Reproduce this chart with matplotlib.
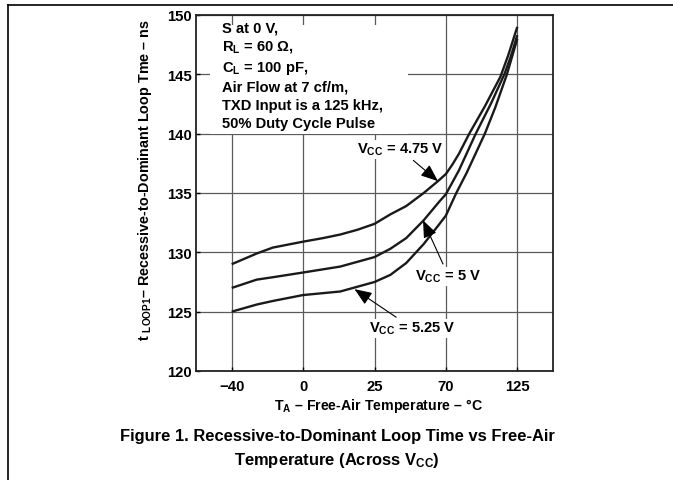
import numpy as np
import matplotlib
matplotlib.use("Agg")
import matplotlib.pyplot as plt
from matplotlib.lines import Line2D

plt.rcParams['font.family'] = ['Liberation Sans', 'DejaVu Sans']
plt.rcParams['font.weight'] = 'bold'
plt.rcParams['mathtext.fontset'] = 'custom'
plt.rcParams['mathtext.rm'] = 'Liberation Sans:bold'
plt.rcParams['mathtext.it'] = 'Liberation Sans:bold'
plt.rcParams['mathtext.bf'] = 'Liberation Sans:bold'

# ---------------- data ----------------
x_ticks = [-40, 0, 25, 70, 125]
x_tick_labels = ['\u221240', '0', '25', '70', '125']
y_ticks = [120, 125, 130, 135, 140, 145, 150]

t_475 = [-40, -26, -17, 0, 7, 13, 19, 25, 35, 45, 56, 65, 70, 75, 80, 88, 100, 112, 118, 125]
v_475 = [129.0, 129.9, 130.4, 130.9, 131.2, 131.5, 131.9, 132.4, 133.2, 133.9, 135.0,
         136.0, 136.6, 137.4, 138.3, 140.0, 142.3, 144.8, 146.6, 149.0]

t_500 = [-40, -26, -17, 0, 13, 25, 35, 45, 56, 66, 70, 80, 93, 105, 115, 120, 125]
v_500 = [127.0, 127.7, 127.9, 128.3, 128.8, 129.6, 130.3, 131.2, 132.7, 134.3, 134.9,
         136.9, 140.0, 142.6, 145.0, 146.5, 148.3]

t_525 = [-40, -26, -17, 0, 13, 25, 35, 45, 56, 66, 70, 78, 86, 100, 108, 117, 125]
v_525 = [125.0, 125.6, 125.9, 126.4, 126.7, 127.5, 128.1, 129.1, 130.7, 132.4, 133.1,
         135.0, 136.7, 140.0, 142.2, 145.0, 148.0]

series = [(t_475, v_475), (t_500, v_500), (t_525, v_525)]

# ---------------- scale (equal spacing between uneven tick temperatures) -------------
brk_t = [-60, -40, 0, 25, 70, 125, 152.5]
brk_p = [-0.5, 0, 1, 2, 3, 4, 4.5]

def fwd(t):
    return np.interp(t, brk_t, brk_p)

def inv(p):
    return np.interp(p, brk_p, brk_t)

W, H = 673, 481
fig = plt.figure(figsize=(W / 100, H / 100), dpi=100)
ax = fig.add_axes([196 / W, 1 - 372 / H, (553 - 196) / W, (372 - 16) / H])
ax.set_xscale('function', functions=(fwd, inv))
ax.set_xlim(-60, 152.5)
ax.set_ylim(120, 150)

ax.set_xticks(x_ticks)
ax.set_xticklabels(x_tick_labels)
ax.set_yticks(y_ticks)
ax.minorticks_off()
ax.grid(True, color='#5a5a5a', lw=0.9)
ax.set_axisbelow(True)
ax.tick_params(axis='both', direction='in', length=3, labelsize=10.7, width=1)
ax.tick_params(axis='x', pad=6)
ax.tick_params(axis='y', pad=3)
for sp in ax.spines.values():
    sp.set_linewidth(1.3)
    sp.set_color('#222222')

for t, v in series:
    ax.plot(t, v, color='#1a1a1a', lw=1.7, solid_capstyle='butt')

# white area behind the condition block
ax.axvspan(-52, 46, ymin=0.665, ymax=0.972, facecolor='white', edgecolor='none', zorder=1.5)

# condition text block
cond = ("S at 0 V,\n"
        "R$_{\\mathrm{L}}$ = 60 \u03a9,\n"
        "C$_{\\mathrm{L}}$ = 100 pF,\n"
        "Air Flow at 7 cf/m,\n"
        "TXD Input is a 125 kHz,\n"
        "50% Duty Cycle Pulse")
ax.text(0.072, 0.985, cond, transform=ax.transAxes, ha='left', va='top',
        fontsize=10.6, fontweight='bold', linespacing=1.36, zorder=3)

arrow = dict(arrowstyle='-|>,head_length=1.0,head_width=0.4', color='black', lw=0.8,
             shrinkA=2, shrinkB=0)
lab_kw = dict(fontsize=10.6, fontweight='bold', ha='center', va='center',
              bbox=dict(facecolor='white', edgecolor='none', pad=1))
ax.annotate('V$_{\\mathrm{CC}}$ = 4.75 V', xy=(65, 136.0), xytext=(41, 138.7),
            arrowprops=arrow, **lab_kw)
ax.annotate('V$_{\\mathrm{CC}}$ = 5 V', xy=(55.6, 132.7), xytext=(72, 128.0),
            arrowprops=arrow, **lab_kw)
ax.annotate('V$_{\\mathrm{CC}}$ = 5.25 V', xy=(18, 126.9), xytext=(49, 123.6),
            arrowprops=arrow, **lab_kw)

fig.text(378 / W, 1 - 406 / H, 'T$_{\\mathrm{A}}$ \u2013 Free-Air Temperature \u2013 \u00b0C',
         ha='center', va='center', fontsize=10.2, fontweight='bold')
fig.text(145 / W, 1 - 180 / H,
         't $_{\\mathrm{LOOP1}}$\u2013 Recessive-to-Dominant Loop Tme \u2013 ns',
         rotation=90, ha='center', va='center', fontsize=10.4, fontweight='bold')

fig.text(337 / W, 1 - 436 / H,
         'Figure 1. Recessive-to-Dominant Loop Time vs Free-Air',
         ha='center', va='center', fontsize=11.9, fontweight='bold')
fig.text(337 / W, 1 - 460 / H, 'Temperature (Across V$_{\\mathrm{CC}}$)',
         ha='center', va='center', fontsize=11.9, fontweight='bold')

# page frame lines
fig.add_artist(Line2D([8 / W, 1], [1 - 6 / H, 1 - 6 / H], color='black', lw=1.2,
                      transform=fig.transFigure))
fig.add_artist(Line2D([8 / W, 8 / W], [0, 1 - 6 / H], color='black', lw=1.2,
                      transform=fig.transFigure))

fig.savefig('out.png', dpi=100)
